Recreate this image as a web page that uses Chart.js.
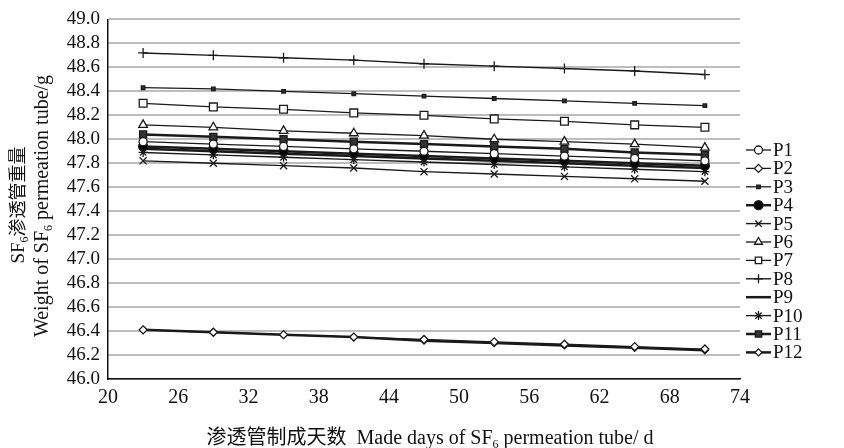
<!DOCTYPE html>
<html>
<head>
<meta charset="utf-8">
<script src="https://cdn.jsdelivr.net/npm/chart.js@4.4.1/dist/chart.umd.min.js"></script>
<style>
  body { margin: 0; background: #fff; }
  #wrap { width: 844px; height: 448px; }
</style>
</head>
<body>
<div id="wrap"><canvas id="myChart" width="844" height="448"></canvas></div>
<script>
const days = [23, 29, 35, 41, 47, 53, 59, 65, 71]
const xTicks = [20, 26, 32, 38, 44, 50, 56, 62, 68, 74]

const p1 = [47.98, 47.96, 47.94, 47.92, 47.90, 47.88, 47.86, 47.84, 47.82]
const p2 = [46.41, 46.39, 46.37, 46.35, 46.33, 46.31, 46.29, 46.27, 46.25]
const p3 = [48.43, 48.42, 48.40, 48.38, 48.36, 48.34, 48.32, 48.30, 48.28]
const p4 = [47.94, 47.92, 47.90, 47.88, 47.86, 47.84, 47.82, 47.80, 47.78]
const p5 = [47.82, 47.80, 47.78, 47.76, 47.73, 47.71, 47.69, 47.67, 47.65]
const p6 = [48.12, 48.10, 48.07, 48.05, 48.03, 48.00, 47.98, 47.96, 47.93]
const p7 = [48.30, 48.27, 48.25, 48.22, 48.20, 48.17, 48.15, 48.12, 48.10]
const p8 = [48.72, 48.70, 48.68, 48.66, 48.63, 48.61, 48.59, 48.57, 48.54]
const p9 = [47.92, 47.90, 47.88, 47.86, 47.84, 47.82, 47.80, 47.78, 47.76]
const p10 = [47.89, 47.87, 47.85, 47.83, 47.81, 47.79, 47.77, 47.75, 47.73]
const p11 = [48.04, 48.02, 48.00, 47.98, 47.96, 47.94, 47.92, 47.89, 47.87]
const p12 = [46.41, 46.39, 46.37, 46.35, 46.32, 46.30, 46.28, 46.26, 46.24]

const seriesNames = ['P1', 'P2', 'P3', 'P4', 'P5', 'P6', 'P7', 'P8', 'P9', 'P10', 'P11', 'P12']
const seriesValues = [p1, p2, p3, p4, p5, p6, p7, p8, p9, p10, p11, p12]

// marker look per series
const styles = [
    { pointStyle: 'circle', radius: 4, fill: '#fff', width: 1.3 },
    { pointStyle: 'rectRot', radius: 4, fill: '#fff', width: 1.3 },
    { pointStyle: 'rect', radius: 2.5, fill: '#333', width: 1.3 },
    { pointStyle: 'circle', radius: 4.5, fill: '#000', width: 2.5 },
    { pointStyle: 'crossRot', radius: 5, fill: '#fff', width: 1.4 },
    { pointStyle: 'triangle', radius: 5, fill: '#fff', width: 1.3 },
    { pointStyle: 'rect', radius: 5.5, fill: '#fff', width: 1.3 },
    { pointStyle: 'cross', radius: 5, fill: '#fff', width: 1.4 },
    { pointStyle: 'line', radius: 4, fill: '#fff', width: 2.5 },
    { pointStyle: 'star', radius: 4.5, fill: '#fff', width: 1.4 },
    { pointStyle: 'rect', radius: 5, fill: '#333', width: 2.5 },
    { pointStyle: 'rectRot', radius: 3.5, fill: '#fff', width: 2.5 }
]

const serif = '"Liberation Serif", "DejaVu Serif", serif'
const cjk = '"Noto Sans CJK SC", sans-serif'

const datasets = seriesValues.map((vals, i) => ({
    label: seriesNames[i],
    data: vals.map((v, j) => ({ x: days[j], y: v })),
    borderColor: '#1a1a1a',
    borderWidth: styles[i].width,
    pointStyle: styles[i].pointStyle,
    pointRadius: styles[i].radius,
    pointBackgroundColor: styles[i].fill,
    pointBorderColor: '#1a1a1a',
    pointBorderWidth: 1.3,
    fill: false,
    tension: 0
}))

// text with subscript pieces: [[text, isSub, font, size], ...]
const drawRich = (ctx, parts, x, y, size) => {
    const fontOf = (p) => {
        const s = p[3] || size
        return (p[1] ? Math.round(s * 0.62) : s) + 'px ' + (p[2] || serif)
    }
    let total = 0
    parts.forEach(p => { ctx.font = fontOf(p); total += ctx.measureText(p[0]).width })
    let cx = x - total / 2
    ctx.textAlign = 'left'
    ctx.textBaseline = 'alphabetic'
    parts.forEach(p => {
        ctx.font = fontOf(p)
        ctx.fillText(p[0], cx, p[1] ? y + size * 0.22 : y)
        cx += ctx.measureText(p[0]).width
    })
}

const extras = {
    id: 'extras',
    afterDraw(chart) {
        const ctx = chart.ctx
        ctx.save()
        ctx.fillStyle = '#111'
        // x title
        drawRich(ctx, [['渗透管制成天数', false, cjk], ['  Made days of SF', false], ['6', true], [' permeation tube/ d', false]],
            430, 444, 20)
        // y titles
        ctx.save()
        ctx.translate(24, 205)
        ctx.rotate(-Math.PI / 2)
        drawRich(ctx, [['SF', false, serif, 19], ['6', true, serif, 19], ['渗透管重量', false, cjk, 18]], 0, 0, 19)
        ctx.restore()
        ctx.save()
        ctx.translate(48, 206)
        ctx.rotate(-Math.PI / 2)
        drawRich(ctx, [['Weight of SF', false], ['6', true], [' permeation tube/g', false]], 0, 0, 20)
        ctx.restore()

        // legend with line + marker
        chart.data.datasets.forEach((ds, i) => {
            const ly = 150 + i * 18.4
            ctx.strokeStyle = '#1a1a1a'
            ctx.lineWidth = ds.borderWidth
            ctx.beginPath()
            ctx.moveTo(746, ly)
            ctx.lineTo(771, ly)
            ctx.stroke()
            ctx.fillStyle = ds.pointBackgroundColor
            ctx.lineWidth = 1.3
            Chart.helpers.drawPoint(ctx, { pointStyle: ds.pointStyle, radius: Math.min(ds.pointRadius, 4.5), borderWidth: 1.3, rotation: 0 }, 758.5, ly)
            ctx.fillStyle = '#111'
            ctx.font = '19px ' + serif
            ctx.textAlign = 'left'
            ctx.textBaseline = 'middle'
            ctx.fillText(ds.label, 773, ly + 1)
        })
        ctx.restore()
    }
}

const ctx = document.getElementById('myChart').getContext('2d')
const myChart = new Chart(ctx, {
    type: 'line',
    data: { datasets: datasets },
    options: {
        responsive: false,
        animation: false,
        layout: { padding: { left: 50, right: 104, top: 19, bottom: 0 } },
        plugins: {
            legend: { display: false },
            tooltip: { enabled: false }
        },
        scales: {
            x: {
                type: 'linear',
                min: 20,
                max: 74,
                afterBuildTicks: (scale) => { scale.ticks = xTicks.map(v => ({ value: v })) },
                afterFit: (scale) => { scale.height = 69 },
                grid: { display: false, drawTicks: false },
                border: { display: true, color: '#111', width: 1.5 },
                ticks: { color: '#111', padding: 7, autoSkip: false, maxRotation: 0, font: { family: serif, size: 20 } }
            },
            y: {
                min: 46,
                max: 49,
                afterFit: (scale) => { scale.width = 58 },
                grid: { color: '#bdbdbd', lineWidth: 2, drawTicks: false },
                border: { display: true, color: '#111', width: 1.5 },
                ticks: {
                    stepSize: 0.2,
                    autoSkip: false,
                    color: '#111',
                    padding: 8,
                    font: { family: serif, size: 19 },
                    callback: (v) => v.toFixed(1)
                }
            }
        }
    },
    plugins: [extras]
})
</script>
</body>
</html>
